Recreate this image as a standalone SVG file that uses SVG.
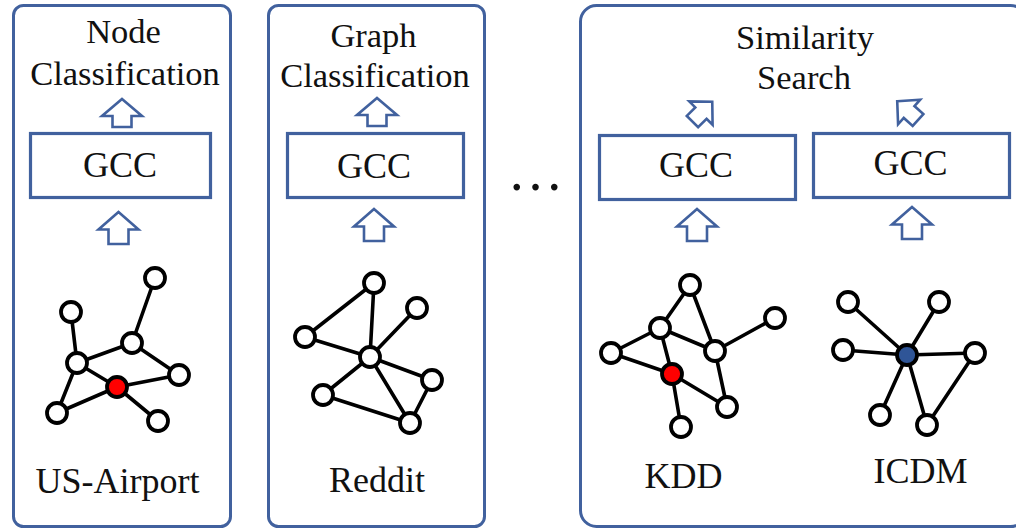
<svg xmlns="http://www.w3.org/2000/svg" width="1016" height="530" viewBox="0 0 1016 530">
  <style>
    .panel { fill: #ffffff; stroke: #41619e; stroke-width: 3; }
    .gcc { fill: #ffffff; stroke: #41619e; stroke-width: 3.2; }
    .arrow { fill: #ffffff; stroke: #41619e; stroke-width: 2.6; stroke-linejoin: miter; }
    .t { font-family: "Liberation Serif", "Times New Roman", serif; fill: #111111; text-anchor: middle; }
    .title { font-size: 34.5px; }
    .box { font-size: 36px; }
    .label { font-size: 36px; }
    .edge { stroke: #000000; stroke-width: 3.6; stroke-linecap: round; fill: none; }
    .v { fill: #ffffff; stroke: #000000; stroke-width: 3.8; }
    .red { fill: #ff0000; }
    .blue { fill: #2f5597; }
  </style>
  <defs>
    <!-- hollow up-arrows, tip at origin -->
    <path id="upShort" class="arrow" d="M0,0 L20,17 L9.5,17 L9.5,28 L-9.5,28 L-9.5,17 L-20,17 Z"/>
    <path id="upLong" class="arrow" d="M0,0 L20,17.5 L10,17.5 L10,32 L-10,32 L-10,17.5 L-20,17.5 Z"/>
    <!-- small arrow centred at origin, used rotated -->
    <path id="upSmall" class="arrow" d="M0,-14.5 L16.5,1.5 L8,1.5 L8,13.5 L-8,13.5 L-8,1.5 L-16.5,1.5 Z"/>
  </defs>

  <!-- Panel 1: node classification -->
  <g id="panel-node-classification">
    <rect class="panel" x="13.5" y="5.5" width="217" height="521" rx="10"/>
    <text class="t title" x="123.5" y="43">Node</text>
    <text class="t title" x="125" y="85">Classification</text>
    <rect class="gcc" x="30.5" y="133.5" width="180" height="64"/>
    <text class="t box" x="120" y="177">GCC</text>
    <text class="t label" x="117.5" y="493">US-Airport</text>
  </g>

  <!-- Panel 2: graph classification -->
  <g id="panel-graph-classification">
    <rect class="panel" x="268.5" y="5.5" width="216" height="521" rx="10"/>
    <text class="t title" x="373.5" y="47">Graph</text>
    <text class="t title" x="375" y="87">Classification</text>
    <rect class="gcc" x="287.5" y="133.5" width="176" height="64"/>
    <text class="t box" x="374" y="178">GCC</text>
    <text class="t label" x="377" y="492">Reddit</text>
  </g>

  <!-- ellipsis between panels -->
  <g id="ellipsis">
    <text class="t" x="535.5" y="190" font-size="56">…</text>
  </g>

  <!-- Panel 3: similarity search -->
  <g id="panel-similarity-search">
    <rect class="panel" x="580.5" y="5.5" width="446" height="521" rx="16"/>
    <text class="t title" x="805" y="49">Similarity</text>
    <text class="t title" x="804" y="89">Search</text>
    <rect class="gcc" x="599.5" y="135.5" width="196" height="64"/>
    <text class="t box" x="696" y="177">GCC</text>
    <rect class="gcc" x="813.5" y="133.5" width="196" height="64"/>
    <text class="t box" x="910.5" y="175">GCC</text>
    <text class="t label" x="683.5" y="488">KDD</text>
    <text class="t label" x="920.5" y="483">ICDM</text>
  </g>

  <!-- connectors: block arrows and graph edges -->
  <g id="connectors">
    <use href="#upShort" x="122" y="99"/>
    <use href="#upLong" x="118.5" y="212"/>
    <use href="#upShort" x="377" y="98"/>
    <use href="#upLong" x="374" y="209"/>
    <use href="#upLong" x="697" y="209"/>
    <use href="#upLong" x="912" y="207"/>
    <use href="#upSmall" transform="translate(702,112) rotate(45)"/>
    <use href="#upSmall" transform="translate(908,111) rotate(-48)"/>

    <!-- US-Airport graph edges -->
    <g id="edges-us-airport">
      <line class="edge" x1="155" y1="278" x2="132" y2="343"/>
      <line class="edge" x1="71" y1="312" x2="77" y2="363"/>
      <line class="edge" x1="132" y1="343" x2="77" y2="363"/>
      <line class="edge" x1="132" y1="343" x2="179" y2="375"/>
      <line class="edge" x1="77" y1="363" x2="117" y2="387"/>
      <line class="edge" x1="77" y1="363" x2="57" y2="413"/>
      <line class="edge" x1="57" y1="413" x2="117" y2="387"/>
      <line class="edge" x1="117" y1="387" x2="179" y2="375"/>
      <line class="edge" x1="117" y1="387" x2="158" y2="421"/>
    </g>
    <!-- Reddit graph edges -->
    <g id="edges-reddit">
      <line class="edge" x1="374" y1="283" x2="305" y2="337"/>
      <line class="edge" x1="374" y1="283" x2="370" y2="357"/>
      <line class="edge" x1="305" y1="337" x2="370" y2="357"/>
      <line class="edge" x1="417" y1="308" x2="370" y2="357"/>
      <line class="edge" x1="370" y1="357" x2="432" y2="380"/>
      <line class="edge" x1="370" y1="357" x2="410" y2="423"/>
      <line class="edge" x1="370" y1="357" x2="323" y2="395"/>
      <line class="edge" x1="323" y1="395" x2="410" y2="423"/>
      <line class="edge" x1="432" y1="380" x2="410" y2="423"/>
    </g>
    <!-- KDD graph edges -->
    <g id="edges-kdd">
      <line class="edge" x1="690" y1="285" x2="660" y2="328"/>
      <line class="edge" x1="690" y1="285" x2="715" y2="351"/>
      <line class="edge" x1="660" y1="328" x2="611" y2="353"/>
      <line class="edge" x1="660" y1="328" x2="715" y2="351"/>
      <line class="edge" x1="660" y1="328" x2="672" y2="374"/>
      <line class="edge" x1="611" y1="353" x2="672" y2="374"/>
      <line class="edge" x1="715" y1="351" x2="775" y2="318"/>
      <line class="edge" x1="715" y1="351" x2="727" y2="407"/>
      <line class="edge" x1="672" y1="374" x2="727" y2="407"/>
      <line class="edge" x1="672" y1="374" x2="681" y2="427"/>
    </g>
    <!-- ICDM graph edges -->
    <g id="edges-icdm">
      <line class="edge" x1="907" y1="355" x2="848" y2="302"/>
      <line class="edge" x1="907" y1="355" x2="939" y2="302"/>
      <line class="edge" x1="907" y1="355" x2="843" y2="350"/>
      <line class="edge" x1="907" y1="355" x2="975" y2="353"/>
      <line class="edge" x1="907" y1="355" x2="880" y2="415"/>
      <line class="edge" x1="907" y1="355" x2="927" y2="425"/>
      <line class="edge" x1="975" y1="353" x2="927" y2="425"/>
    </g>
  </g>

  <!-- graph vertices -->
  <g id="nodes-us-airport">
    <circle class="v" cx="155" cy="278" r="10"/>
    <circle class="v" cx="71" cy="312" r="10"/>
    <circle class="v" cx="132" cy="343" r="10"/>
    <circle class="v" cx="77" cy="363" r="10"/>
    <circle class="v red" cx="117" cy="387" r="10"/>
    <circle class="v" cx="179" cy="375" r="10"/>
    <circle class="v" cx="57" cy="413" r="10"/>
    <circle class="v" cx="158" cy="421" r="10"/>
  </g>
  <g id="nodes-reddit">
    <circle class="v" cx="374" cy="283" r="10"/>
    <circle class="v" cx="417" cy="308" r="10"/>
    <circle class="v" cx="305" cy="337" r="10"/>
    <circle class="v" cx="370" cy="357" r="10"/>
    <circle class="v" cx="432" cy="380" r="10"/>
    <circle class="v" cx="323" cy="395" r="10"/>
    <circle class="v" cx="410" cy="423" r="10"/>
  </g>
  <g id="nodes-kdd">
    <circle class="v" cx="690" cy="285" r="10"/>
    <circle class="v" cx="775" cy="318" r="10"/>
    <circle class="v" cx="660" cy="328" r="10"/>
    <circle class="v" cx="611" cy="353" r="10"/>
    <circle class="v" cx="715" cy="351" r="10"/>
    <circle class="v red" cx="672" cy="374" r="10"/>
    <circle class="v" cx="727" cy="407" r="10"/>
    <circle class="v" cx="681" cy="427" r="10"/>
  </g>
  <g id="nodes-icdm">
    <circle class="v" cx="848" cy="302" r="10"/>
    <circle class="v" cx="939" cy="302" r="10"/>
    <circle class="v" cx="843" cy="350" r="10"/>
    <circle class="v blue" cx="907" cy="355" r="10"/>
    <circle class="v" cx="975" cy="353" r="10"/>
    <circle class="v" cx="880" cy="415" r="10"/>
    <circle class="v" cx="927" cy="425" r="10"/>
  </g>
</svg>
